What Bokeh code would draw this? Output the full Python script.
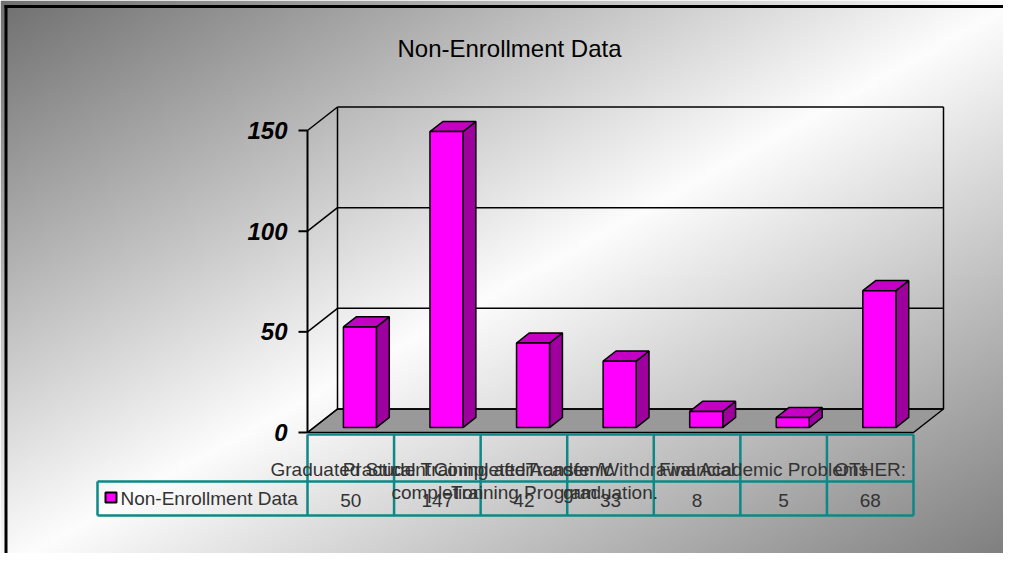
import numpy as np
from bokeh.plotting import figure
from bokeh.models import Range1d
from bokeh.embed import file_html
from bokeh.resources import INLINE
from bokeh.core.properties import value

# ---------------- data ----------------
title_text = "Non-Enrollment Data"
series_name = "Non-Enrollment Data"
categories = [
    "Graduated Student",
    "Practical Training after\ncompletion",
    "Completed Academic\nTraining Program",
    "Transfer/Withdrawal\ngraduation.",
    "Financial",
    "Academic Problems",
    "OTHER:",
]
counts = [50, 147, 42, 33, 8, 5, 68]
y_ticks = [0, 50, 100, 150]
y_max = 150

# ---------------- geometry (style) ----------------
W, H = 1003, 553
OFF = 0                      # canvas origin in reference pixels
AX_X = 307                   # reference px of front axis
AX_Y0 = 432                  # reference px of value 0 (front)
COL_PX = 606 / 7             # px per category column
UNIT_PX = 302 / 150          # px per value unit

def rx(px):   # reference x pixel -> data x
    return (px - AX_X) / COL_PX

def ry(py):   # reference y pixel -> data value
    return (AX_Y0 - py) / UNIT_PX

x_start, x_end = rx(OFF), rx(OFF + W)
y_start, y_end = ry(OFF + H), ry(OFF)

DX = 30 / COL_PX             # depth offset x
DY = 23.5 / UNIT_PX          # depth offset y

FONT = value("Liberation Sans")
TEAL = "#0E8787"
MAG = "#FF00FF"
MAG_TOP = "#C400C4"
MAG_SIDE = "#9E009E"

p = figure(width=W, height=H, output_backend="svg", toolbar_location=None,
           x_range=Range1d(x_start, x_end), y_range=Range1d(y_start, y_end),
           x_axis_type=None, y_axis_type=None, min_border=0,
           outline_line_color=None, tools="")
p.grid.visible = False
p.background_fill_color = "white"
p.border_fill_color = "white"

# ---------------- background gradient ----------------
hh, ww = 139, 251
yy, xx = np.mgrid[0:hh, 0:ww]
refx = OFF + (xx + 0.5) / ww * W
refy = OFF + (1 - (yy + 0.5) / hh) * H
t = (refx / 1019 + refy / 569) / 2
c0, cm, c1 = 112.0, 253.0, 122.0
col = np.where(t < 0.5, c0 + (cm - c0) * (t / 0.5), cm - (cm - c1) * ((t - 0.5) / 0.5))
col = np.clip(col, 0, 255).astype(np.uint8)
img = np.empty((hh, ww), dtype=np.uint32)
view = img.view(dtype=np.uint8).reshape((hh, ww, 4))
view[..., 0] = col
view[..., 1] = col
view[..., 2] = col
view[..., 3] = 255
p.image_rgba(image=[img], x=x_start, y=y_start, dw=x_end - x_start, dh=y_end - y_start)

# chart border (left & top)
p.line([rx(5.5)] * 2, [y_start, ry(4.5)], line_color="black", line_width=3)
p.line([rx(4), x_end], [ry(6)] * 2, line_color="black", line_width=3)

n = len(counts)

# ---------------- floor ----------------
p.patch([0, n, n + DX, DX], [0, 0, DY, DY], fill_color="#999999",
        line_color="black", line_width=1.5)

# ---------------- walls ----------------
p.line([DX, DX], [DY, y_max + DY], line_color="black", line_width=1.5)
p.line([n + DX, n + DX], [DY, y_max + DY], line_color="black", line_width=1.5)
for tv in y_ticks:
    p.line([DX, n + DX], [tv + DY, tv + DY], line_color="black", line_width=1.5)
    p.line([0, DX], [tv, tv + DY], line_color="black", line_width=1.5)

# ---------------- front axis ----------------
p.line([0, 0], [0, y_max], line_color="black", line_width=2)
tick_len = 9 / COL_PX
p.segment(x0=[-tick_len] * len(y_ticks), y0=y_ticks, x1=[0] * len(y_ticks), y1=y_ticks,
          line_color="black", line_width=2)
p.text(x=[rx(287)] * len(y_ticks), y=y_ticks, text=[str(v) for v in y_ticks],
       text_align="right", text_baseline="middle", text_font=FONT,
       text_font_size=value("24px"), text_font_style="bold italic", text_color="black")

# ---------------- 3D bars ----------------
ZF, ZB = 0.21, 0.64
gap = 29.6 / COL_PX
bw = 33 / COL_PX
ddx, ddy = (ZB - ZF) * DX, (ZB - ZF) * DY
fx0, fx1, fb, ft = [], [], [], []
side_xs, side_ys, top_xs, top_ys = [], [], [], []
for i, v in enumerate(counts):
    x0 = i + gap + ZF * DX
    x1 = x0 + bw
    base = ZF * DY
    top = v + ZF * DY
    fx0.append(x0); fx1.append(x1); fb.append(base); ft.append(top)
    side_xs.append([x1, x1 + ddx, x1 + ddx, x1])
    side_ys.append([base, base + ddy, top + ddy, top])
    top_xs.append([x0, x1, x1 + ddx, x0 + ddx])
    top_ys.append([top, top, top + ddy, top + ddy])
p.patches(side_xs, side_ys, fill_color=MAG_SIDE, line_color="black", line_width=1.5)
p.patches(top_xs, top_ys, fill_color=MAG_TOP, line_color="black", line_width=1.5)
p.quad(left=fx0, right=fx1, bottom=fb, top=ft, fill_color=MAG,
       line_color="black", line_width=1.5)

# ---------------- title ----------------
p.text(x=[rx(509)], y=[ry(48)], text=[title_text], text_align="center",
       text_baseline="middle", text_font=FONT, text_font_size=value("24px"),
       text_color="black")

# ---------------- data table ----------------
t_top, t_mid, t_bot = ry(434), ry(481), ry(515)
leg_left = rx(97)
seg_x0 = [0, leg_left, leg_left] + list(range(n + 1)) + [leg_left]
seg_x1 = [n, n, n] + list(range(n + 1)) + [leg_left]
seg_y0 = [t_top, t_mid, t_bot] + [t_top] * (n + 1) + [t_mid]
seg_y1 = [t_top, t_mid, t_bot] + [t_bot] * (n + 1) + [t_bot]
p.segment(x0=seg_x0, y0=seg_y0, x1=seg_x1, y1=seg_y1, line_color=TEAL, line_width=2.5)

centers = [i + 0.5 for i in range(n)]
line1 = [c.split("\n")[0] for c in categories]
line2 = [c.split("\n")[1] if "\n" in c else "" for c in categories]
TXT = "#333333"
p.text(x=centers, y=[ry(469)] * n, text=line1, text_align="center",
       text_baseline="alphabetic", text_font=FONT, text_font_size=value("19px"),
       text_color=TXT)
p.text(x=centers, y=[ry(492)] * n, text=line2, text_align="center",
       text_baseline="alphabetic", text_font=FONT, text_font_size=value("19px"),
       text_color=TXT)
p.text(x=centers, y=[ry(500)] * n, text=[str(v) for v in counts], text_align="center",
       text_baseline="middle", text_font=FONT, text_font_size=value("19px"),
       text_color=TXT)

# legend key
p.quad(left=[rx(105)], right=[rx(116)], bottom=[ry(502)], top=[ry(492)],
       fill_color=MAG, line_color="black", line_width=2)
p.text(x=[rx(120)], y=[ry(498)], text=[series_name], text_align="left",
       text_baseline="middle", text_font=FONT, text_font_size=value("19px"),
       text_color=TXT)

open("out.html", "w").write(file_html(p, INLINE))
